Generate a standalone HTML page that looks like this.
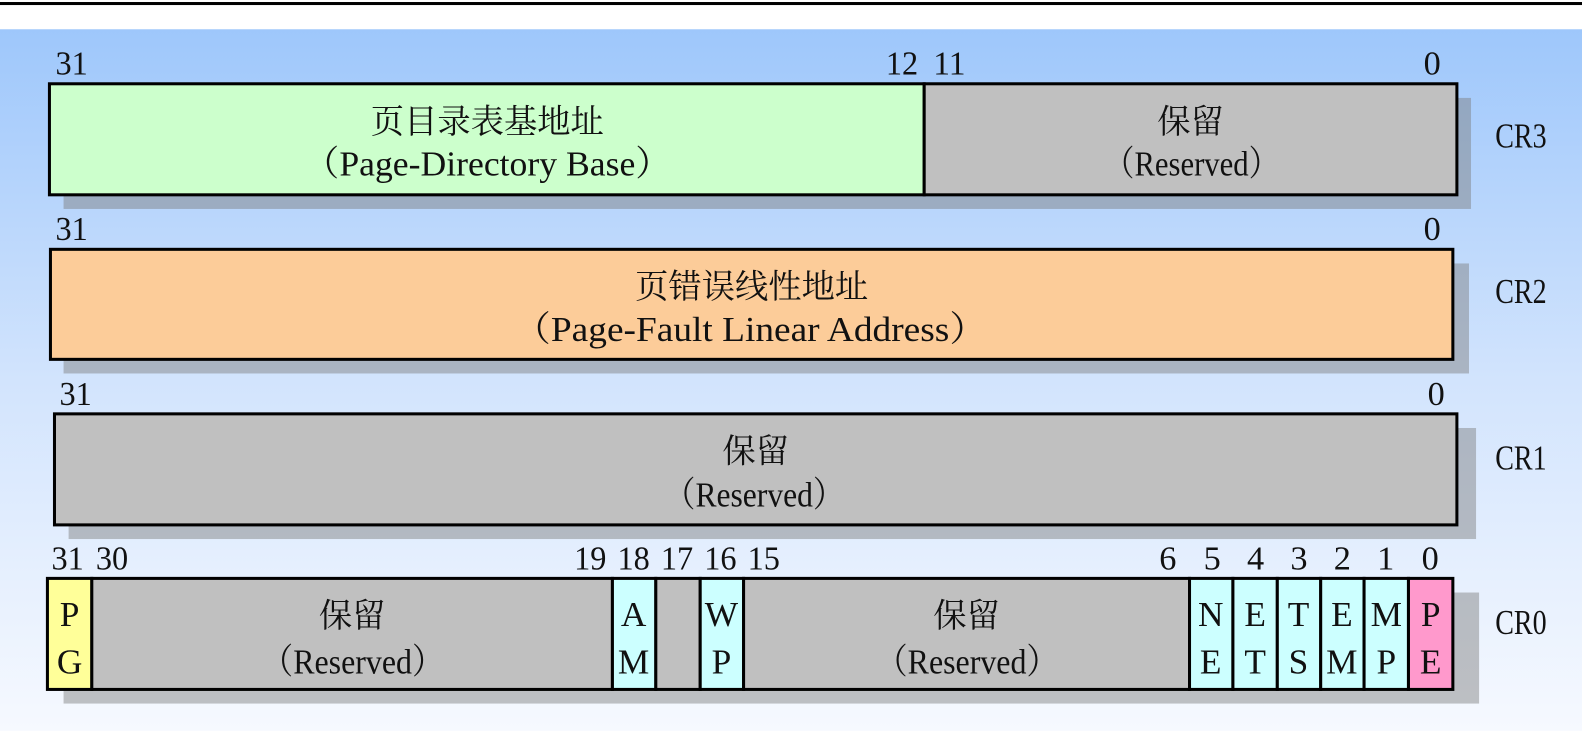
<!DOCTYPE html>
<html><head><meta charset="utf-8"><style>
html,body{margin:0;padding:0;width:1582px;height:751px;overflow:hidden;background:#fff}
svg{display:block}
text{font-family:"Liberation Serif","Noto Serif CJK SC",serif;font-size:35px;fill:#111}
.d{font-size:34px}
.c{font-family:"Noto Serif CJK SC","Liberation Serif",serif;font-size:33px}
</style></head><body>
<svg width="1582" height="751" viewBox="0 0 1568 744" preserveAspectRatio="none">
<defs>
<linearGradient id="bg" x1="0" y1="0" x2="0" y2="1">
<stop offset="0" stop-color="#9ec7fb"/>
<stop offset="0.5" stop-color="#d2e4fd"/>
<stop offset="1" stop-color="#f6f9ff"/>
</linearGradient>
</defs>
<rect x="0" y="0" width="1568" height="744" fill="#fff"/>
<rect x="0" y="2" width="1568" height="3" fill="#000"/>
<rect x="0" y="29" width="1568" height="695" fill="url(#bg)"/>

<g fill="#7a7a7a" fill-opacity="0.45">
<rect x="63" y="97" width="1395" height="110"/>
<rect x="63" y="261" width="1393" height="109"/>
<rect x="68" y="424" width="1395" height="110"/>
<rect x="63" y="587" width="1403" height="110"/>
</g>

<!-- CR3 -->
<rect x="49" y="83" width="867" height="110" fill="#ccffcc" stroke="#000" stroke-width="3"/>
<rect x="916" y="83" width="528" height="110" fill="#c0c0c0" stroke="#000" stroke-width="3"/>
<g class="d">
<text class="d" x="55" y="74" textLength="32" lengthAdjust="spacingAndGlyphs">31</text>
<text class="d" x="878" y="74" textLength="32" lengthAdjust="spacingAndGlyphs">12</text><text class="d" x="925" y="74" textLength="32" lengthAdjust="spacingAndGlyphs">11</text>
<text class="d" x="1411" y="74">0</text>
</g>
<text x="1482" y="146" textLength="51" lengthAdjust="spacingAndGlyphs">CR3</text>
<text class="c" x="483" y="132" text-anchor="middle">页目录表基地址</text>
<text x="301" y="174" textLength="364" lengthAdjust="spacingAndGlyphs">（Page-Directory Base）</text>
<text class="c" x="1180" y="132" text-anchor="middle">保留</text>
<text x="1094" y="174" textLength="174" lengthAdjust="spacingAndGlyphs">（Reserved）</text>

<!-- CR2 -->
<rect x="50" y="247" width="1390" height="109" fill="#fccc99" stroke="#000" stroke-width="3"/>
<text class="d" x="55" y="238" textLength="32" lengthAdjust="spacingAndGlyphs">31</text>
<text class="d" x="1411" y="238">0</text>
<text x="1482" y="300" textLength="51" lengthAdjust="spacingAndGlyphs">CR2</text>
<text class="c" x="745" y="295" text-anchor="middle">页错误线性地址</text>
<text x="509" y="338" textLength="469" lengthAdjust="spacingAndGlyphs">（Page-Fault Linear Address）</text>

<!-- CR1 -->
<rect x="54" y="410" width="1390" height="110" fill="#c0c0c0" stroke="#000" stroke-width="3"/>
<text class="d" x="59" y="401" textLength="32" lengthAdjust="spacingAndGlyphs">31</text>
<text class="d" x="1415" y="401">0</text>
<text x="1482" y="465" textLength="51" lengthAdjust="spacingAndGlyphs">CR1</text>
<text class="c" x="749" y="458" text-anchor="middle">保留</text>
<text x="658" y="502" textLength="179" lengthAdjust="spacingAndGlyphs">（Reserved）</text>

<!-- CR0 -->
<g stroke="#000" stroke-width="3">
<rect x="47" y="573" width="44" height="110" fill="#ffff99"/>
<rect x="91" y="573" width="516" height="110" fill="#c0c0c0"/>
<rect x="607" y="573" width="43" height="110" fill="#ccffff"/>
<rect x="650" y="573" width="44" height="110" fill="#c0c0c0"/>
<rect x="694" y="573" width="43" height="110" fill="#ccffff"/>
<rect x="737" y="573" width="442" height="110" fill="#c0c0c0"/>
<rect x="1179" y="573" width="43" height="110" fill="#ccffff"/>
<rect x="1222" y="573" width="44" height="110" fill="#ccffff"/>
<rect x="1266" y="573" width="43" height="110" fill="#ccffff"/>
<rect x="1309" y="573" width="43" height="110" fill="#ccffff"/>
<rect x="1352" y="573" width="44" height="110" fill="#ccffff"/>
<rect x="1396" y="573" width="44" height="110" fill="#ff99cc"/>
</g>
<g>
<text class="d" x="51" y="564" textLength="32" lengthAdjust="spacingAndGlyphs">31</text><text class="d" x="95" y="564" textLength="32" lengthAdjust="spacingAndGlyphs">30</text>
<text class="d" x="569" y="564" textLength="32" lengthAdjust="spacingAndGlyphs">19</text><text class="d" x="612" y="564" textLength="32" lengthAdjust="spacingAndGlyphs">18</text><text class="d" x="655" y="564" textLength="32" lengthAdjust="spacingAndGlyphs">17</text>
<text class="d" x="698" y="564" textLength="32" lengthAdjust="spacingAndGlyphs">16</text><text class="d" x="741" y="564" textLength="32" lengthAdjust="spacingAndGlyphs">15</text>
<text class="d" x="1149" y="564">6</text><text class="d" x="1193" y="564">5</text><text class="d" x="1236" y="564">4</text>
<text class="d" x="1279" y="564">3</text><text class="d" x="1322" y="564">2</text><text class="d" x="1365" y="564">1</text><text class="d" x="1409" y="564">0</text>
<text x="1482" y="628" textLength="51" lengthAdjust="spacingAndGlyphs">CR0</text>
</g>
<g text-anchor="middle" style="font-size:32px">
<text x="69" y="620">P</text><text x="69" y="667">G</text>
<text x="628" y="620">A</text><text x="628" y="667">M</text>
<text x="715" y="620">W</text><text x="715" y="667">P</text>
<text x="1200" y="620">N</text><text x="1200" y="667">E</text>
<text x="1244" y="620">E</text><text x="1244" y="667">T</text>
<text x="1287" y="620">T</text><text x="1287" y="667">S</text>
<text x="1330" y="620">E</text><text x="1330" y="667">M</text>
<text x="1374" y="620">M</text><text x="1374" y="667">P</text>
<text x="1418" y="620">P</text><text x="1418" y="667">E</text>
<text class="c" x="349" y="621">保留</text>
<text class="c" x="958" y="621">保留</text>
</g>
<text x="259" y="667" textLength="181" lengthAdjust="spacingAndGlyphs">（Reserved）</text>
<text x="868" y="667" textLength="181" lengthAdjust="spacingAndGlyphs">（Reserved）</text>
</svg>
</body></html>
